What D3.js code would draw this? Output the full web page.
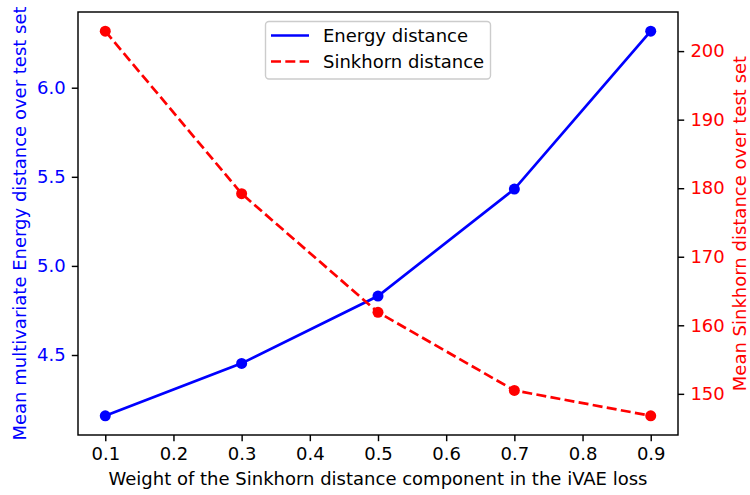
<!DOCTYPE html>
<html>
<head>
<meta charset="utf-8">
<script src="https://cdn.jsdelivr.net/npm/d3@7"></script>
<style>
  body { margin: 0; background: #fff; }
  svg { display: block; font-family: "DejaVu Sans", sans-serif; }
</style>
</head>
<body>
<svg id="chart" width="750" height="495"></svg>
<script>
const weights = [0.1, 0.3, 0.5, 0.7, 0.9];
const energyValues = [4.159, 4.453, 4.831, 5.431, 6.317];
const sinkhornValues = [202.9, 179.2, 161.9, 150.5, 146.8];
const xTicks = [0.1, 0.2, 0.3, 0.4, 0.5, 0.6, 0.7, 0.8, 0.9];
const energyTicks = [4.5, 5.0, 5.5, 6.0];
const sinkhornTicks = [150, 160, 170, 180, 190, 200];
const seriesNames = ["Energy distance", "Sinkhorn distance"];

const W = 750, H = 495;
const m = {left: 78, right: 678, top: 12, bottom: 435};
const fs = 18;
const svg = d3.select("#chart");

function padDomain(vals) {
  const lo = d3.min(vals), hi = d3.max(vals), p = (hi - lo) * 0.05;
  return [lo - p, hi + p];
}
const x = d3.scaleLinear().domain(padDomain(weights)).range([m.left, m.right]);
const yE = d3.scaleLinear().domain(padDomain(energyValues)).range([m.bottom, m.top]);
const yS = d3.scaleLinear().domain(padDomain(sinkhornValues)).range([m.bottom, m.top]);

const tickLen = 6.2, pad = 6.2, lw = 2.7, axw = 1.45, mr = 5.5;
const dash = `${3.7 * lw},${1.6 * lw}`;

function styleAxis(g, color) {
  g.select(".domain").remove();
  g.selectAll("line").attr("stroke", "#000").attr("stroke-width", axw);
  g.selectAll("text").attr("font-size", fs).attr("fill", color).attr("font-family", "DejaVu Sans");
}

// X axis
svg.append("g").attr("transform", `translate(0,${m.bottom})`)
  .call(d3.axisBottom(x).tickValues(xTicks).tickFormat(d3.format(".1f")).tickSizeOuter(0).tickSize(tickLen).tickPadding(pad))
  .call(g => styleAxis(g, "#000"));

// Left axis
svg.append("g").attr("transform", `translate(${m.left},0)`)
  .call(d3.axisLeft(yE).tickValues(energyTicks).tickFormat(d3.format(".1f")).tickSizeOuter(0).tickSize(tickLen).tickPadding(pad))
  .call(g => styleAxis(g, "blue"));

// Right axis
svg.append("g").attr("transform", `translate(${m.right},0)`)
  .call(d3.axisRight(yS).tickValues(sinkhornTicks).tickFormat(d3.format("d")).tickSizeOuter(0).tickSize(tickLen).tickPadding(pad))
  .call(g => styleAxis(g, "red"));

// Energy line
const lineE = d3.line().x((d, i) => x(weights[i])).y(d => yE(d));
svg.append("path").datum(energyValues).attr("d", lineE)
  .attr("fill", "none").attr("stroke", "blue").attr("stroke-width", lw);
svg.selectAll("circle.e").data(energyValues).enter().append("circle")
  .attr("class", "e").attr("cx", (d, i) => x(weights[i])).attr("cy", d => yE(d))
  .attr("r", mr).attr("fill", "blue");

// Sinkhorn line
const lineS = d3.line().x((d, i) => x(weights[i])).y(d => yS(d));
svg.append("path").datum(sinkhornValues).attr("d", lineS)
  .attr("fill", "none").attr("stroke", "red").attr("stroke-width", lw)
  .attr("stroke-dasharray", dash);
svg.selectAll("circle.s").data(sinkhornValues).enter().append("circle")
  .attr("class", "s").attr("cx", (d, i) => x(weights[i])).attr("cy", d => yS(d))
  .attr("r", mr).attr("fill", "red");

// Frame
svg.append("rect").attr("x", m.left).attr("y", m.top)
  .attr("width", m.right - m.left).attr("height", m.bottom - m.top)
  .attr("fill", "none").attr("stroke", "#000").attr("stroke-width", axw);

// Axis labels
svg.append("text").attr("x", (m.left + m.right) / 2).attr("y", 485)
  .attr("text-anchor", "middle").attr("font-size", fs).attr("fill", "#000")
  .text("Weight of the Sinkhorn distance component in the iVAE loss");
svg.append("text").attr("transform", `translate(25.5,${(m.top + m.bottom) / 2}) rotate(-90)`)
  .attr("text-anchor", "middle").attr("font-size", fs).attr("fill", "blue")
  .text("Mean multivariate Energy distance over test set");
svg.append("text").attr("transform", `translate(745.5,${(m.top + m.bottom) / 2}) rotate(-90)`)
  .attr("text-anchor", "middle").attr("font-size", fs).attr("fill", "red")
  .text("Mean Sinkhorn distance over test set");

// Legend
const lg = svg.append("g");
lg.append("rect").attr("x", 265.5).attr("y", 21.5).attr("width", 225).attr("height", 57.5)
  .attr("rx", 3.5).attr("fill", "#fff").attr("fill-opacity", 0.8)
  .attr("stroke", "#cccccc").attr("stroke-width", 1.4);
const legendRows = [
  {name: seriesNames[0], color: "blue", dash: null, y: 35.5},
  {name: seriesNames[1], color: "red", dash: dash, y: 61.5}
];
legendRows.forEach(r => {
  lg.append("line").attr("x1", 271).attr("x2", 309).attr("y1", r.y).attr("y2", r.y)
    .attr("stroke", r.color).attr("stroke-width", lw)
    .attr("stroke-dasharray", r.dash);
  lg.append("text").attr("x", 323).attr("y", r.y).attr("dy", "0.36em")
    .attr("font-size", fs).attr("fill", "#000").text(r.name);
});
</script>
</body>
</html>
